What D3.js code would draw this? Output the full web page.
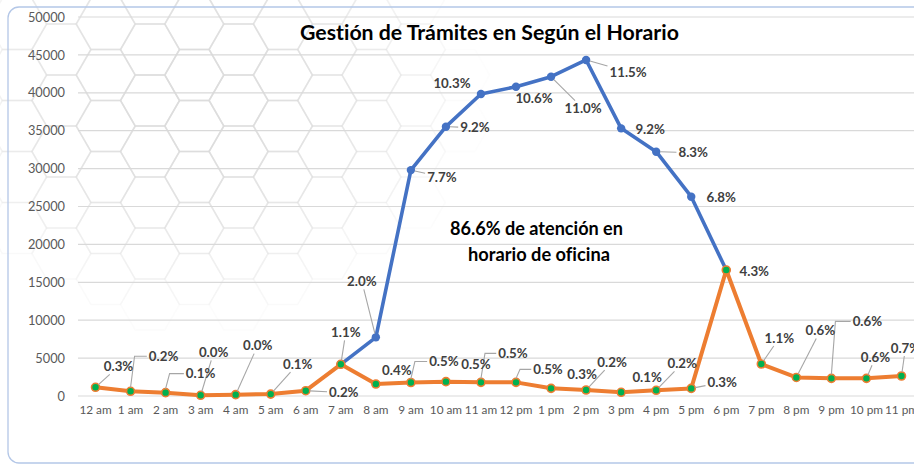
<!DOCTYPE html>
<html>
<head>
<meta charset="utf-8">
<script src="https://cdn.jsdelivr.net/npm/d3@7/dist/d3.min.js"></script>
<style>
  body { margin: 0; background: #fff; }
  svg { display: block; font-family: Lato, sans-serif; font-variant-ligatures: none;
        font-feature-settings: "liga" 0, "clig" 0, "calt" 0, "dlig" 0; }
</style>
</head>
<body>
<div id="chart"></div>
<script>
// data
var hours = ["12 am", "1 am", "2 am", "3 am", "4 am", "5 am", "6 am", "7 am", "8 am", "9 am", "10 am", "11 am",
  "12 pm", "1 pm", "2 pm", "3 pm", "4 pm", "5 pm", "6 pm", "7 pm", "8 pm", "9 pm", "10 pm", "11 pm"];
var officeValues = [null, null, null, null, null, null, null, 4180, 7740, 29800, 35530, 39840,
  40800, 42120, 44330, 35310, 32230, 26290, 16620, null, null, null, null, null];
var offHoursValues = [1150, 620, 440, 90, 180, 250, 700, 4180, 1580, 1780, 1890, 1800,
  1800, 1010, 790, 490, 750, 1000, 16620, 4220, 2450, 2330, 2330, 2640];
var officeLabels = [null, null, null, null, null, null, null, null, "2.0%", "7.7%", "9.2%", "10.3%",
  "10.6%", "11.0%", "11.5%", "9.2%", "8.3%", "6.8%", "4.3%", null, null, null, null, null];
var offHoursLabels = ["0.3%", "0.2%", "0.1%", "0.0%", "0.0%", "0.1%", "0.2%", "1.1%", "0.4%", "0.5%", "0.5%", "0.5%",
  "0.5%", "0.3%", "0.2%", "0.1%", "0.2%", "0.3%", null, "1.1%", "0.6%", "0.6%", "0.6%", "0.7%"];
var yTicks = [0, 5000, 10000, 15000, 20000, 25000, 30000, 35000, 40000, 45000, 50000];
var title = "Gestión de Trámites en Según el Horario";
var note = ["86.6% de atención en", "horario de oficina"];

// label placement (dx, dy from the point, leader kind) - style only
var officePos = {8: [-14, -56, "line"], 9: [31, 7, "line"], 10: [29, 1, "line"], 11: [-29, -11, "none"],
  12: [18, 12, "none"], 13: [32, 32, "line"], 14: [42, 12, "line"], 15: [29, 1, "none"],
  16: [37, 1, "line"], 17: [30, 1, "none"], 18: [28, 1, "none"]};
var offPos = {0: [23, -21, "line"], 1: [33, -35, "elbow"], 2: [35, -19, "elbow"], 3: [13, -43, "line"],
  4: [22, -49, "line"], 5: [27, -30, "line"], 6: [38, 2, "line"], 7: [5, -32, "line"], 8: [21, -14, "none"],
  9: [33, -21, "elbow"], 10: [30, -17, "none"], 11: [32, -29, "elbow"], 12: [32, -13, "elbow"],
  13: [31, -14, "none"], 14: [26, -28, "line"], 15: [26, -15, "none"], 16: [26, -27, "line"],
  17: [31, -6, "line"], 19: [18, -26, "line"], 20: [24, -47, "line"], 21: [36, -57, "elbow"],
  22: [9, -21, "line"], 23: [4, -28, "line"]};

var W = 914, H = 466;
var svg = d3.select("#chart").append("svg").attr("width", W).attr("height", H);

svg.append("rect").attr("width", W).attr("height", H).attr("fill", "#fff");

// faint hexagon texture, top left
var hexR = 29.5;
var hexG = svg.append("g").attr("fill", "none").attr("stroke", "#dcdcdc").attr("stroke-width", 1.6);
for (var k = -2; k < 10; k++) {
  for (var j = -2; j < 6; j++) {
    var cx = 105.7 + k * 44.3, cy = 75 + j * 51 + (Math.abs(k) % 2 ? 25.5 : 0);
    var dist = Math.hypot((cx - 190) / 1.25, cy - 95);
    var op = Math.max(0, 1 - dist / 230);
    if (op <= 0.02) continue;
    var pts = d3.range(6).map(function (i) {
      var a = Math.PI / 3 * i;
      return [cx + hexR * Math.cos(a), cy + hexR * Math.sin(a)];
    });
    hexG.append("polygon").attr("points", pts.join(" ")).attr("stroke-opacity", op);
  }
}

// chart border
svg.append("rect").attr("x", 8).attr("y", 7).attr("width", 930).attr("height", 456)
  .attr("rx", 11).attr("fill", "none").attr("stroke", "#b4c7e7").attr("stroke-width", 1.3);

var x = d3.scaleBand().domain(hours).range([78, 919]);
var cxOf = function (h) { return x(h) + x.bandwidth() / 2; };
var y = d3.scaleLinear().domain([0, 50000]).range([396, 17]);

// gridlines
svg.append("g").selectAll("line").data(yTicks).enter().append("line")
  .attr("x1", 78).attr("x2", W).attr("y1", function (d) { return y(d); }).attr("y2", function (d) { return y(d); })
  .attr("stroke", "#d9d9d9").attr("stroke-width", 1.2);

// axes
var yAxis = d3.axisLeft(y).tickValues(yTicks).tickSize(0).tickPadding(0).tickFormat(d3.format("d"));
var yg = svg.append("g").attr("transform", "translate(65,0)").call(yAxis);
yg.select(".domain").remove();
yg.selectAll("text").attr("fill", "#595959").attr("font-size", "12.8px").attr("font-family", "Lato, sans-serif");

var xAxis = d3.axisBottom(x).tickSize(0).tickPadding(0);
var xg = svg.append("g").attr("transform", "translate(0,406)").call(xAxis);
xg.select(".domain").remove();
xg.selectAll("text").attr("fill", "#595959").attr("font-size", "11.8px").attr("font-family", "Lato, sans-serif");

// lines
var line = d3.line().defined(function (d) { return d.v != null; })
  .x(function (d) { return cxOf(d.h); }).y(function (d) { return y(d.v); });
var officeData = hours.map(function (h, i) { return { h: h, v: officeValues[i], lab: officeLabels[i], i: i }; });
var offData = hours.map(function (h, i) { return { h: h, v: offHoursValues[i], lab: offHoursLabels[i], i: i }; });

svg.append("path").datum(officeData).attr("d", line).attr("fill", "none")
  .attr("stroke", "#4472c4").attr("stroke-width", 3.6).attr("stroke-linejoin", "round");
svg.append("g").selectAll("circle").data(officeData.filter(function (d) { return d.v != null; })).enter()
  .append("circle").attr("cx", function (d) { return cxOf(d.h); }).attr("cy", function (d) { return y(d.v); })
  .attr("r", 4.2).attr("fill", "#4472c4");

svg.append("path").datum(offData).attr("d", line).attr("fill", "none")
  .attr("stroke", "#ed7d31").attr("stroke-width", 4).attr("stroke-linejoin", "round");
svg.append("g").selectAll("circle").data(offData).enter()
  .append("circle").attr("cx", function (d) { return cxOf(d.h); }).attr("cy", function (d) { return y(d.v); })
  .attr("r", 4).attr("fill", "#00b050").attr("stroke", "#ed7d31").attr("stroke-width", 1.6);

// data labels with leader lines
function drawLabels(data, pos) {
  var g = svg.append("g");
  data.forEach(function (d) {
    if (!d.lab || !pos[d.i]) return;
    var p = pos[d.i];
    var px = cxOf(d.h), py = y(d.v);
    var lx = px + p[0], ly = py + p[1];
    var t = g.append("text").attr("x", lx).attr("y", ly + 4.6).attr("text-anchor", "middle")
      .attr("font-size", "13.3px").attr("font-weight", "bold").attr("fill", "#404040").text(d.lab);
    var hw = t.node().getComputedTextLength() / 2 + 2, hh = 8;
    if (p[2] === "line") {
      var dx = px - lx, dy = py - ly;
      var s = Math.min(dx ? hw / Math.abs(dx) : 1e9, dy ? hh / Math.abs(dy) : 1e9);
      var ex = lx + dx * s, ey = ly + dy * s;
      var len = Math.hypot(px - ex, py - ey);
      if (len < 7) return;
      var sx = px + (ex - px) * 4 / len, sy = py + (ey - py) * 4 / len;
      g.insert("line", "text").attr("x1", sx).attr("y1", sy).attr("x2", ex).attr("y2", ey)
        .attr("stroke", "#a6a6a6").attr("stroke-width", 1.1);
    } else if (p[2] === "elbow") {
      g.insert("path", "text").attr("d", "M" + px + "," + (py - 4) + "L" + (px + 4) + "," + ly + "L" + (lx - hw) + "," + ly)
        .attr("fill", "none").attr("stroke", "#a6a6a6").attr("stroke-width", 1.1);
    }
  });
}
drawLabels(officeData, officePos);
drawLabels(offData, offPos);

// fit text to a given width (keeps the look of the reference)
function fitText(sel, width) {
  var w0 = sel.node().getComputedTextLength();
  var fs = parseFloat(sel.attr("font-size"));
  sel.attr("font-size", (fs * width / w0).toFixed(2) + "px");
}

var tt = svg.append("text").attr("x", 489.5).attr("y", 40).attr("text-anchor", "middle")
  .attr("font-size", "20px").attr("font-weight", "bold").attr("fill", "#000").text(title);
fitText(tt, 379);

var n1 = svg.append("text").attr("x", 536.5).attr("y", 235).attr("text-anchor", "middle")
  .attr("font-size", "16px").attr("font-weight", "bold").attr("fill", "#000").text(note[0]);
fitText(n1, 173);
var n2 = svg.append("text").attr("x", 539).attr("y", 260.5).attr("text-anchor", "middle")
  .attr("font-size", "16px").attr("font-weight", "bold").attr("fill", "#000").text(note[1]);
fitText(n2, 142);
</script>
</body>
</html>
